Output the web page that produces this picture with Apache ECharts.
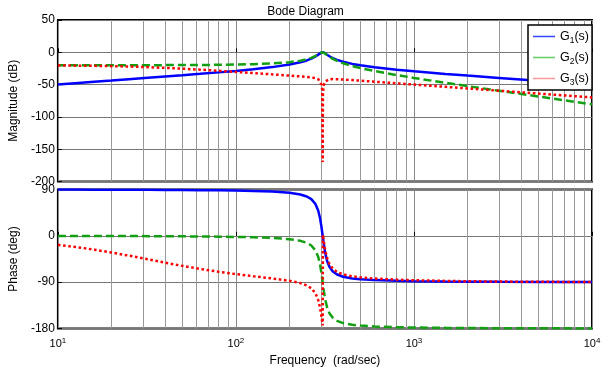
<!DOCTYPE html>
<html>
<head>
<meta charset="utf-8">
<script src="https://cdn.jsdelivr.net/npm/echarts@6/dist/echarts.min.js"></script>
<style>
html,body{margin:0;padding:0;background:#fff;}
#c{width:611px;height:373px;}
</style>
</head>
<body>
<div id="c"></div>
<script>
// ---- data ----
const freq = [10,13,16,20,25,32,40,50,63,80,100,125,160,200,230,250,265,280,290,297,302,305,307,308,312,317,325,335,350,370,400,450,500,600,800,1000,1500,2000,3000,5000,7000,10000];
const g1Mag = [-49.73,-47.45,-45.64,-43.69,-41.73,-39.55,-37.55,-35.53,-33.38,-31.07,-28.77,-26.24,-22.93,-18.98,-15.48,-12.58,-9.88,-6.43,-3.61,-1.58,-0.44,-0.07,0.00,-0.02,-0.43,-1.50,-3.76,-6.08,-8.98,-11.79,-14.72,-17.95,-20.17,-23.20,-26.94,-29.40,-33.41,-36.07,-39.71,-44.20,-47.14,-50.25];
const g2Mag = [-19.99,-19.98,-19.98,-19.96,-19.94,-19.91,-19.85,-19.77,-19.63,-19.39,-19.03,-18.44,-17.27,-15.26,-12.97,-10.80,-8.60,-5.63,-3.12,-1.29,-0.30,-0.02,0.00,-0.05,-0.57,-1.77,-4.25,-6.84,-10.12,-13.41,-17.02,-21.27,-24.41,-29.02,-35.26,-39.66,-47.19,-52.35,-59.51,-68.44,-74.30,-80.51];
const g3Mag = [-20.41,-20.66,-20.97,-21.43,-22.07,-23.01,-24.09,-25.37,-26.88,-28.61,-30.33,-32.12,-34.17,-36.08,-37.34,-38.17,-38.90,-40.02,-41.68,-44.56,-49.66,-57.38,-170,-63.47,-50.07,-45.32,-42.80,-41.67,-41.40,-41.59,-42.11,-43.05,-43.94,-45.49,-47.98,-49.91,-53.42,-55.92,-59.44,-63.88,-66.80,-69.90];
const g1Phase = [89.81,89.76,89.70,89.63,89.53,89.40,89.24,89.04,88.77,88.40,87.91,87.21,85.91,83.54,80.31,76.41,71.29,61.52,48.74,33.52,18.19,7.44,0,-3.72,-17.91,-32.67,-48.75,-60.22,-69.18,-75.09,-79.42,-82.73,-84.37,-86.03,-87.42,-88.06,-88.78,-89.10,-89.41,-89.65,-89.75,-89.82];
const g2Phase = [-0.19,-0.24,-0.30,-0.37,-0.47,-0.60,-0.76,-0.96,-1.23,-1.60,-2.09,-2.79,-4.09,-6.46,-9.69,-13.59,-18.71,-28.48,-41.26,-56.48,-71.81,-82.56,-90,-93.72,-107.91,-122.67,-138.75,-150.22,-159.18,-165.09,-169.42,-172.73,-174.37,-176.03,-177.42,-178.06,-178.78,-179.10,-179.41,-179.65,-179.75,-179.82];
const g3Phase = [-17.54,-22.35,-26.87,-32.39,-38.47,-45.60,-52.10,-58.34,-64.30,-69.80,-74.35,-78.43,-82.78,-87.37,-91.77,-96.30,-101.82,-111.96,-124.96,-140.33,-155.76,-166.57,-174,2.21,-12.05,-26.91,-43.13,-54.76,-63.96,-70.15,-74.85,-78.66,-80.71,-82.98,-85.13,-86.23,-87.56,-88.18,-88.80,-89.28,-89.49,-89.64];
const minorFreq = [20,30,40,50,60,70,80,90,200,300,400,500,600,700,800,900,2000,3000,4000,5000,6000,7000,8000,9000];
const seriesNames = ['G1(s)','G2(s)','G3(s)'];
const magTicks = {min:-200, max:50, interval:50};
const phaseTicks = {min:-180, max:90, interval:90};

const FONT = 'Liberation Sans, Arial, sans-serif';
const colors = ['#0000ff','#12a012','#ff0000'];
const lineTypes = ['solid',[8,4],[2.6,2.6]];
const legendColors = ['#3344ff','#66cc66','#ff9999'];

const pairs = arr => freq.map((f,i)=>[f, arr[i]]);
const minorLines = {
  silent:true, symbol:'none', z:1, label:{show:false},
  lineStyle:{color:'#999', width:1, type:'solid'},
  data: minorFreq.map(v=>({xAxis:v}))
};

function mkSeries(name, idx, data, axisIdx, withMinor){
  const s = {
    name, type:'line', xAxisIndex:axisIdx, yAxisIndex:axisIdx,
    data: pairs(data), symbol:'none', showSymbol:false, z:3+idx,
    lineStyle:{color:colors[idx], width:2.5, type:lineTypes[idx], cap:'butt'},
    itemStyle:{color:colors[idx]}, emphasis:{disabled:true}
  };
  if (withMinor) s.markLine = minorLines;
  return s;
}

const xBase = {
  type:'log', logBase:10, min:10, max:10000,
  axisLine:{show:false},
  axisTick:{show:true, inside:true, length:4, lineStyle:{color:'#000'}},
  splitLine:{show:true, lineStyle:{color:'#888', width:1}},
  minorTick:{show:false}
};
const yBase = {
  type:'value',
  axisLine:{show:false},
  axisTick:{show:true, inside:true, length:4, lineStyle:{color:'#000'}},
  splitLine:{show:true, lineStyle:{color:'#777', width:1}},
  axisLabel:{color:'#000', fontSize:12, fontFamily:FONT, margin:3},
  nameLocation:'middle', nameRotate:90, nameGap:22,
  nameTextStyle:{color:'#000', fontSize:12, fontFamily:FONT}
};

const option = {
  animation:false,
  backgroundColor:'#fff',
  title:{text:'Bode Diagram', left:'center', top:6, padding:0,
    textStyle:{fontSize:12, fontWeight:'normal', color:'#000', fontFamily:FONT}},
  grid:[
    {left:54, right:19, top:20, height:161.5, show:true, borderColor:'#000', borderWidth:2, backgroundColor:'transparent'},
    {left:54, right:19, top:189.5, height:139, show:true, borderColor:'#000', borderWidth:2, backgroundColor:'transparent'}
  ],
  xAxis:[
    Object.assign({}, xBase, {gridIndex:0, axisLabel:{show:false}}),
    Object.assign({}, xBase, {gridIndex:1,
      axisLabel:{show:true, margin:8, color:'#000', fontFamily:FONT,
        formatter: v => '{b|10}{s|' + Math.round(Math.log10(v)) + '}',
        rich:{b:{fontSize:11, fontFamily:FONT, color:'#000'}, s:{fontSize:8, fontFamily:FONT, color:'#000', padding:[0,0,7,0]}}},
      name:'Frequency  (rad/sec)', nameLocation:'middle', nameGap:26,
      nameTextStyle:{color:'#000', fontSize:12, fontFamily:FONT}})
  ],
  yAxis:[
    Object.assign({}, yBase, magTicks, {gridIndex:0, name:'Magnitude (dB)'}),
    Object.assign({}, yBase, phaseTicks, {gridIndex:1, name:'Phase (deg)'})
  ],
  legend:{
    orient:'vertical', left:528, top:25,
    padding:[5,3,3,5], itemGap:6, itemWidth:22, itemHeight:1.5, itemTextGap:2,
    backgroundColor:'#fff', borderColor:'#000', borderWidth:1.5, borderRadius:0,
    selectedMode:false,
    data: seriesNames.map((n,i)=>({name:n, icon:'rect', itemStyle:{color:legendColors[i], borderWidth:0}})),
    formatter: n => 'G{sub|' + n.charAt(1) + '}(s)',
    textStyle:{fontSize:12.5, color:'#000', fontFamily:FONT,
      rich:{sub:{fontSize:8.5, fontFamily:FONT, color:'#000', padding:[8,0,0,0]}}}
  },
  series:[
    mkSeries(seriesNames[0],0,g1Mag,0,true),
    mkSeries(seriesNames[1],1,g2Mag,0,false),
    mkSeries(seriesNames[2],2,g3Mag,0,false),
    mkSeries(seriesNames[0],0,g1Phase,1,true),
    mkSeries(seriesNames[1],1,g2Phase,1,false),
    mkSeries(seriesNames[2],2,g3Phase,1,false)
  ]
};
const chart = echarts.init(document.getElementById('c'), null, {renderer:'canvas'});
chart.setOption(option);
</script>
</body>
</html>
